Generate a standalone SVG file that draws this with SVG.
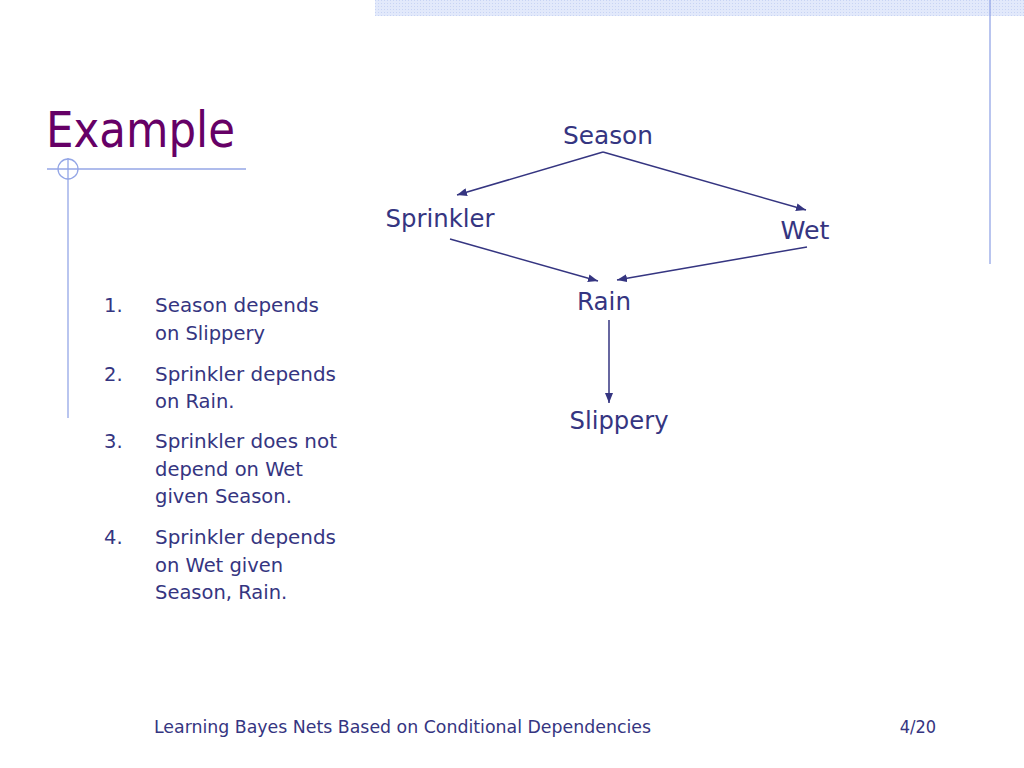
<svg xmlns="http://www.w3.org/2000/svg" width="1024" height="768" viewBox="0 0 1024 768">
<style>
.t{font-family:"DejaVu Sans",sans-serif;fill:#353581}
.node{font-size:25px;text-anchor:middle}
.list{font-size:19.5px}
.deco{stroke:#94a6e6;stroke-width:1.3;fill:none}
.edge{stroke:#353581;stroke-width:1.5;fill:none;marker-end:url(#ah)}
</style>
<defs>
<pattern id="dots" width="3" height="3" patternUnits="userSpaceOnUse">
<rect width="3" height="3" fill="#e2e9fb"/>
<rect width="1" height="1" fill="#c8d4f4"/>
</pattern>
<marker id="ah" viewBox="0 0 10 8" refX="10" refY="4" markerWidth="10" markerHeight="8" markerUnits="userSpaceOnUse" orient="auto">
<path d="M0,0 L10,4 L0,8 Z" fill="#353581"/>
</marker>
</defs>
<rect width="1024" height="768" fill="#ffffff"/>
<g id="decor">
<rect x="375" y="0" width="649" height="16" fill="url(#dots)"/>
<line class="deco" x1="990" y1="0" x2="990" y2="264"/>
<line class="deco" x1="47" y1="169" x2="246" y2="169"/>
<circle class="deco" cx="68" cy="169" r="10"/>
<line class="deco" x1="68" y1="158" x2="68" y2="418"/>
</g>
<text id="title" x="46" y="147" font-family="DejaVu Sans,sans-serif" font-size="50" fill="#660066" textLength="189" lengthAdjust="spacingAndGlyphs">Example</text>
<g id="list" class="t list">
<text x="104" y="312">1.</text>
<text x="155" y="312" textLength="164" lengthAdjust="spacingAndGlyphs">Season depends</text>
<text x="155" y="340">on Slippery</text>
<text x="104" y="381">2.</text>
<text x="155" y="381" textLength="181" lengthAdjust="spacingAndGlyphs">Sprinkler depends</text>
<text x="155" y="408">on Rain.</text>
<text x="104" y="448">3.</text>
<text x="155" y="448" textLength="182" lengthAdjust="spacingAndGlyphs">Sprinkler does not</text>
<text x="155" y="476">depend on Wet</text>
<text x="155" y="503">given Season.</text>
<text x="104" y="544">4.</text>
<text x="155" y="544" textLength="181" lengthAdjust="spacingAndGlyphs">Sprinkler depends</text>
<text x="155" y="572">on Wet given</text>
<text x="155" y="599">Season, Rain.</text>
</g>
<g id="edges">
<line class="edge" x1="603" y1="152" x2="457" y2="195"/>
<line class="edge" x1="603" y1="152" x2="806" y2="210"/>
<line class="edge" x1="450" y1="239" x2="598" y2="281"/>
<line class="edge" x1="807" y1="247" x2="617" y2="280"/>
<line class="edge" x1="609" y1="320" x2="609" y2="403"/>
</g>
<g id="season" class="t node"><text x="608" y="144" textLength="90" lengthAdjust="spacingAndGlyphs">Season</text></g>
<g id="sprinkler" class="t node"><text x="440" y="227" textLength="109" lengthAdjust="spacingAndGlyphs">Sprinkler</text></g>
<g id="wet" class="t node"><text x="805" y="239" textLength="49" lengthAdjust="spacingAndGlyphs">Wet</text></g>
<g id="rain" class="t node"><text x="604" y="310" textLength="54" lengthAdjust="spacingAndGlyphs">Rain</text></g>
<g id="slippery" class="t node"><text x="619" y="429" textLength="99" lengthAdjust="spacingAndGlyphs">Slippery</text></g>
<g id="footer" class="t" font-size="18">
<text x="154" y="733" textLength="497" lengthAdjust="spacingAndGlyphs" font-family="DejaVu Sans Condensed,DejaVu Sans,sans-serif">Learning Bayes Nets Based on Conditional Dependencies</text>
<text x="936" y="733" text-anchor="end" font-family="DejaVu Sans Condensed,DejaVu Sans,sans-serif">4/20</text>
</g>
</svg>
